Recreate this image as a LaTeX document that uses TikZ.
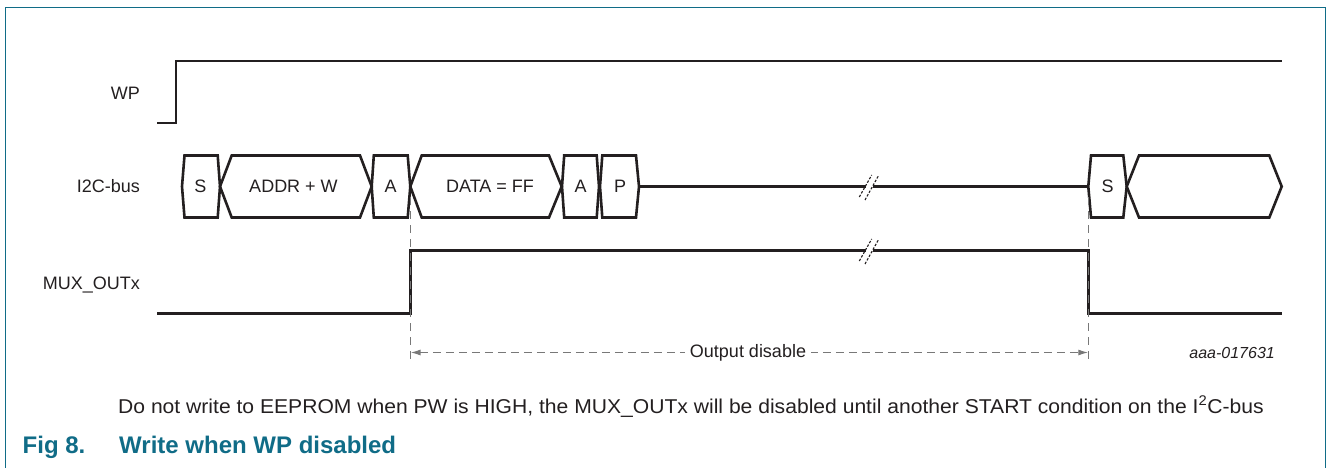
\documentclass[tikz,border=0pt]{standalone}
\usepackage{fontspec}
\setmainfont{Liberation Sans}
\usetikzlibrary{arrows.meta}
\definecolor{nxpteal}{RGB}{16,108,135}
\definecolor{sig}{RGB}{35,31,32}
\definecolor{guide}{RGB}{120,120,120}
\begin{document}
\begin{tikzpicture}[x=1pt,y=-1pt,
  sigline/.style={draw=sig,line width=2.6pt,line join=miter},
  busbox/.style={draw=sig,line width=2.6pt,line join=miter},
  guideline/.style={draw=guide,line width=1.3pt,dash pattern=on 8pt off 6pt},
  dimline/.style={draw=guide,line width=1.3pt,dash pattern=on 8pt off 5pt,
     {Latex[length=10pt,width=6pt]}-{Latex[length=10pt,width=6pt]}},
  breakmark/.style={draw=sig,line width=1.1pt,dash pattern=on 2.5pt off 1.6pt},
  lbl/.style={font=\fontsize{18}{20}\selectfont,text=sig,inner sep=0pt},
  sigtext/.style={lbl,anchor=base east},
  bustext/.style={lbl,anchor=base},
  fig/.style={font=\fontsize{24}{28}\selectfont\bfseries,text=nxpteal,inner sep=0pt,anchor=base west}
]
\useasboundingbox (0,0) rectangle (1328,468);
% frame
\draw[nxpteal,line width=1.5pt] (5.5,490) -- (5.5,7.5) -- (1325.5,7.5) -- (1325.5,490);

% signal labels
\node[sigtext] (lwp) at (140,99.5) {WP};
\node[sigtext] (li2c) at (140,193) {I2C-bus};
\node[sigtext] (lmux) at (140,289.5) {MUX\_OUTx};

% WP
\coordinate (wp0) at (157,123);
\coordinate (wp1) at (176,123);
\coordinate (wp2) at (176,61);
\coordinate (wp3) at (1281.5,61);
\draw[sigline] (wp0) -- (wp1) -- (wp2) -- (wp3);

% I2C bus boxes
\draw[busbox] (182,186.5) -- (184.5,155.5) -- (217.7,155.5) -- (220,186.5) -- (217.7,217.5) -- (184.5,217.5) -- cycle;
\draw[busbox] (220,186.5) -- (231.7,155.5) -- (360,155.5) -- (371.7,186.5) -- (360,217.5) -- (231.7,217.5) -- cycle;
\draw[busbox] (371.7,186.5) -- (373.8,155.5) -- (407.7,155.5) -- (410.3,186.5) -- (407.7,217.5) -- (373.8,217.5) -- cycle;
\draw[busbox] (410.3,186.5) -- (421.7,155.5) -- (549,155.5) -- (561.7,186.5) -- (549,217.5) -- (421.7,217.5) -- cycle;
\draw[busbox] (562,186.5) -- (564.2,155.5) -- (596.7,155.5) -- (599,186.5) -- (596.7,217.5) -- (564.2,217.5) -- cycle;
\draw[busbox] (600,186.5) -- (602.3,155.5) -- (636,155.5) -- (639,186.5) -- (636,217.5) -- (602.3,217.5) -- cycle;
\draw[busbox] (1088.3,186.5) -- (1091,155.5) -- (1123.3,155.5) -- (1126.7,186.5) -- (1123.3,217.5) -- (1091,217.5) -- cycle;
\draw[busbox] (1126.7,186.5) -- (1139,155.5) -- (1269.3,155.5) -- (1281.7,186.5) -- (1269.3,217.5) -- (1139,217.5) -- cycle;

\node[bustext] (bs1) at (200.5,193) {S};
\node[bustext] (baddr) at (293.5,193) {ADDR + W};
\node[bustext] (ba1) at (390.5,193) {A};
\node[bustext] (bdata) at (490,193) {DATA = FF};
\node[bustext] (ba2) at (580.5,193) {A};
\node[bustext] (bp) at (620,193) {P};
\node[bustext] (bs2) at (1107.5,193) {S};

% idle bus line with break
\coordinate (bi0) at (639,186.5);
\coordinate (bi1) at (866,186.5);
\coordinate (bi2) at (873,186.5);
\coordinate (bi3) at (1088.3,186.5);
\draw[sigline] (bi0) -- (bi1);
\draw[sigline] (bi2) -- (bi3);
\draw[breakmark] (859.3,197) -- (871.7,175);
\draw[breakmark] (865,200) -- (878.3,176);

% MUX_OUTx
\coordinate (m0) at (157,313.3);
\coordinate (m1) at (410.5,313.3);
\coordinate (m2) at (410.5,250.5);
\coordinate (m3) at (866,250.5);
\coordinate (m4) at (873,250.5);
\coordinate (m5) at (1088.3,250.5);
\coordinate (m6) at (1088.3,313.3);
\coordinate (m7) at (1281.7,313.3);
\draw[sigline] (m0) -- (m1) -- (m2) -- (m3);
\draw[sigline] (m4) -- (m5) -- (m6) -- (m7);
\draw[breakmark] (859.3,261) -- (871.7,239);
\draw[breakmark] (865,264) -- (878.3,240);

% guides
\coordinate (g1t) at (410.5,197);
\coordinate (g1b) at (410.5,359);
\coordinate (g2t) at (1088.3,197);
\coordinate (g2b) at (1088.3,359);
\draw[guideline] (g1t) -- (g1b);
\draw[guideline] (g2t) -- (g2b);
\coordinate (d1) at (410.5,352.5);
\coordinate (d2) at (1088.3,352.5);
\draw[dimline] (d1) -- (d2);
\node[lbl,fill=white,inner xsep=5pt,inner ysep=3pt] (od) at (748,352.5) {Output disable};

\node[lbl,font=\fontsize{16}{18}\selectfont\itshape,anchor=base east] (code) at (1275,358) {aaa-017631};

% captions
\node[lbl,anchor=base west] (note) at (118,413.5) {\scalebox{1.055}[1]{\fontsize{20}{22}\selectfont Do not write to EEPROM when PW is HIGH, the MUX\_OUTx will be disabled until another START condition on the I\textsuperscript{2}C-bus}};
\node[fig] (fign) at (22.5,453.5) {Fig 8.};
\node[fig] (figt) at (119,453.5) {Write when WP disabled};
\end{tikzpicture}
\end{document}
